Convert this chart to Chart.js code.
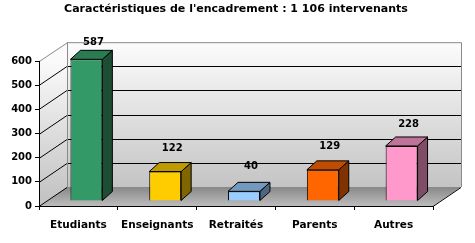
<!DOCTYPE html>
<html>
<head>
<meta charset="utf-8">
<script src="https://cdn.jsdelivr.net/npm/chart.js@4"></script>
<style>
  html, body { margin: 0; padding: 0; background: #fff; }
  #c { display: block; }
</style>
</head>
<body>
<canvas id="c" width="475" height="243"></canvas>
<script>
const categories = ["Etudiants", "Enseignants", "Retraités", "Parents", "Autres"];
const values = [587, 122, 40, 129, 228];
const frontColors = ["#339966", "#ffcc00", "#99ccff", "#ff6600", "#ff99cc"];
const sideColors = ["#1d4d33", "#806600", "#4d6680", "#803300", "#804d66"];
const topColors = ["#2a7a52", "#bf9900", "#7399bf", "#bf4c00", "#bf7399"];
const yMax = 600, yStep = 100;

const FONT = "'DejaVu Sans', sans-serif";
const DEPTH = { x: 28, y: -19 };   // profondeur du mur du fond
const BAR_OFF = { x: 8, y: -5 };   // position des barres dans la profondeur
const BAR_D = { x: 10, y: -9 };    // épaisseur des barres

// murs, sol et quadrillage 3D (dessinés sous les axes)
const walls = {
  id: "walls",
  beforeDraw(chart) {
    const { ctx, chartArea: a, scales: { y } } = chart;
    const bl = a.left + DEPTH.x, br = a.right + DEPTH.x, bt = a.top + DEPTH.y, bb = a.bottom + DEPTH.y;
    ctx.save();
    let g = ctx.createLinearGradient(0, bt, 0, bb);
    g.addColorStop(0, "#fcfcfc"); g.addColorStop(1, "#c4c4c4");
    ctx.fillStyle = g;
    ctx.fillRect(bl, bt, br - bl, bb - bt);
    g = ctx.createLinearGradient(0, a.top, 0, a.bottom);
    g.addColorStop(0, "#fafafa"); g.addColorStop(1, "#c0c0c0");
    ctx.fillStyle = g;
    ctx.beginPath();
    ctx.moveTo(a.left, a.top); ctx.lineTo(bl, bt); ctx.lineTo(bl, bb); ctx.lineTo(a.left, a.bottom);
    ctx.closePath(); ctx.fill();
    g = ctx.createLinearGradient(0, bb, 0, a.bottom);
    g.addColorStop(0, "#888888"); g.addColorStop(1, "#bcbcbc");
    ctx.fillStyle = g;
    ctx.beginPath();
    ctx.moveTo(a.left, a.bottom); ctx.lineTo(bl, bb); ctx.lineTo(br, bb); ctx.lineTo(a.right, a.bottom);
    ctx.closePath(); ctx.fill();

    ctx.lineWidth = 1;
    ctx.strokeStyle = "#000";
    for (let v = 0; v < yMax; v += yStep) {
      const py = Math.round(y.getPixelForValue(v)) + 0.5;
      ctx.beginPath();
      ctx.moveTo(a.left, py); ctx.lineTo(bl, py + DEPTH.y);
      if (v > 0) ctx.lineTo(br, py + DEPTH.y);
      ctx.stroke();
    }
    ctx.beginPath();
    ctx.moveTo(a.right, a.bottom + 0.5); ctx.lineTo(br, bb + 0.5);
    ctx.stroke();

    ctx.strokeStyle = "#8a8a8a";
    ctx.beginPath();
    ctx.moveTo(a.left, a.top + 0.5); ctx.lineTo(bl + 0.5, bt + 0.5);
    ctx.lineTo(br + 0.5, bt + 0.5); ctx.lineTo(br + 0.5, bb);
    ctx.moveTo(bl + 0.5, bt); ctx.lineTo(bl + 0.5, bb);
    ctx.stroke();
    ctx.restore();
  },
  beforeDatasetsDraw(chart) {
    chart.ctx.save();
    chart.ctx.translate(BAR_OFF.x, BAR_OFF.y);
  },
  afterDatasetsDraw(chart) {
    const ctx = chart.ctx;
    ctx.restore();
    const meta = chart.getDatasetMeta(0);
    ctx.save();
    ctx.lineWidth = 1;
    ctx.strokeStyle = "#000";
    meta.data.forEach((bar, i) => {
      const l = bar.x - bar.width / 2 + BAR_OFF.x, r = bar.x + bar.width / 2 + BAR_OFF.x;
      const t = bar.y + BAR_OFF.y, b = bar.base + BAR_OFF.y;
      ctx.fillStyle = sideColors[i];
      ctx.beginPath();
      ctx.moveTo(r, t); ctx.lineTo(r + BAR_D.x, t + BAR_D.y);
      ctx.lineTo(r + BAR_D.x, b + BAR_D.y); ctx.lineTo(r, b);
      ctx.closePath(); ctx.fill(); ctx.stroke();
      ctx.fillStyle = topColors[i];
      ctx.beginPath();
      ctx.moveTo(l, t); ctx.lineTo(l + BAR_D.x, t + BAR_D.y);
      ctx.lineTo(r + BAR_D.x, t + BAR_D.y); ctx.lineTo(r, t);
      ctx.closePath(); ctx.fill(); ctx.stroke();

      // étiquette : la perspective tasse un peu l'échelle des étiquettes
      ctx.fillStyle = "#000";
      ctx.font = "bold 10px " + FONT;
      ctx.textAlign = "center";
      ctx.textBaseline = "middle";
      ctx.fillText(String(values[i]), (l + r) / 2 + 7, 0.945 * bar.y - 18.7);
    });
    ctx.restore();
  }
};

new Chart(document.getElementById("c"), {
  type: "bar",
  data: {
    labels: categories,
    datasets: [{
      data: values,
      backgroundColor: frontColors,
      borderColor: "#000",
      borderWidth: 1,
      barPercentage: 0.405,
      categoryPercentage: 1
    }]
  },
  options: {
    responsive: false,
    animation: false,
    devicePixelRatio: 1,
    layout: { padding: { left: 0, right: 42, top: 0, bottom: 0 } },
    plugins: {
      legend: { display: false },
      tooltip: { enabled: false },
      title: {
        display: true,
        fullSize: false,   // centré sur la zone du graphique
        text: "Caractéristiques de l'encadrement : 1 106 intervenants",
        color: "#000",
        font: { family: FONT, size: 11, weight: "bold" },
        padding: { top: 3, bottom: 45 }
      }
    },
    scales: {
      x: {
        grid: { display: true, drawOnChartArea: false, color: "#000", tickLength: 4, offset: true },
        border: { color: "#000" },
        ticks: { color: "#000", font: { family: FONT, size: 10.5, weight: "bold" }, padding: 9, maxRotation: 0 },
        afterFit: (s) => { s.height = 37; }
      },
      y: {
        min: 0,
        max: yMax,
        ticks: { stepSize: yStep, color: "#000", font: { family: FONT, size: 10, weight: "bold" }, padding: 3 },
        grid: { drawOnChartArea: false, color: "#000", tickLength: 4 },
        border: { color: "#000" },
        afterFit: (s) => { s.width = 39; }
      }
    }
  },
  plugins: [walls]
});
</script>
</body>
</html>
